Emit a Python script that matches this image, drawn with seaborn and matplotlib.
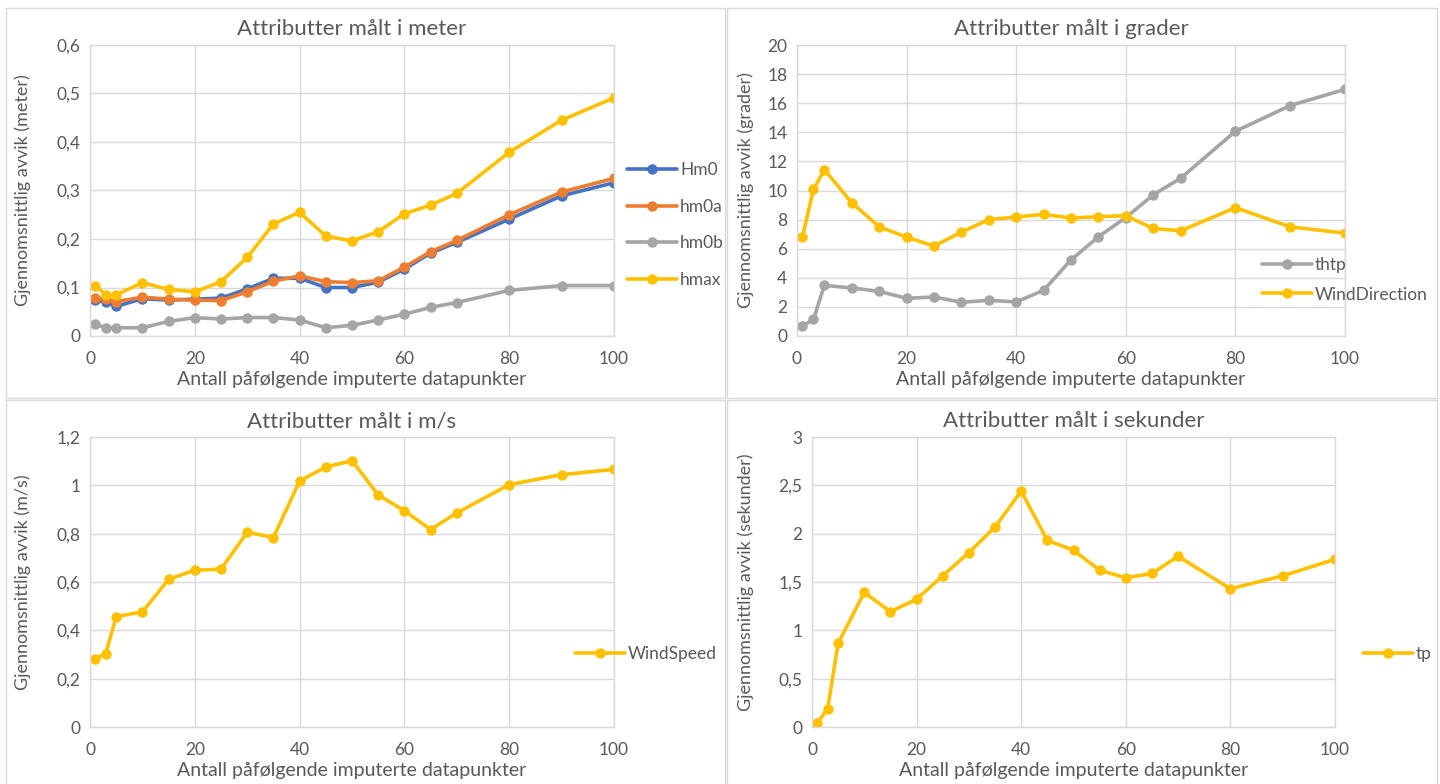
import matplotlib
matplotlib.use("Agg")
import matplotlib.pyplot as plt
import seaborn as sns
import pandas as pd
from matplotlib.patches import Rectangle
from matplotlib.ticker import FuncFormatter, MultipleLocator

sns.set_theme(style="white")
plt.rcParams['font.family'] = ['Lato', 'DejaVu Sans']

# ---------------- data ----------------
x_points = [1, 3, 5, 10, 15, 20, 25, 30, 35, 40, 45, 50, 55, 60, 65, 70, 80, 90, 100]

Hm0 = [0.074, 0.071, 0.061, 0.077, 0.074, 0.076, 0.078, 0.097, 0.119, 0.119, 0.100, 0.100,
       0.111, 0.138, 0.171, 0.193, 0.241, 0.289, 0.316]
hm0a = [0.078, 0.076, 0.071, 0.080, 0.076, 0.074, 0.073, 0.091, 0.113, 0.124, 0.112, 0.110,
        0.114, 0.142, 0.174, 0.197, 0.250, 0.297, 0.325]
hm0b = [0.025, 0.017, 0.017, 0.017, 0.030, 0.038, 0.035, 0.038, 0.038, 0.033, 0.017, 0.022,
        0.033, 0.045, 0.059, 0.069, 0.094, 0.104, 0.104]
hmax = [0.104, 0.085, 0.085, 0.110, 0.096, 0.091, 0.112, 0.162, 0.231, 0.255, 0.206, 0.196,
        0.215, 0.252, 0.270, 0.294, 0.379, 0.445, 0.491]

thtp = [0.68, 1.14, 3.48, 3.30, 3.07, 2.59, 2.68, 2.32, 2.45, 2.34, 3.14, 5.23, 6.82, 8.14,
        9.70, 10.84, 14.07, 15.84, 16.95]
WindDirection = [6.82, 10.07, 11.43, 9.16, 7.50, 6.80, 6.18, 7.14, 8.00, 8.18, 8.36, 8.11,
                 8.20, 8.27, 7.39, 7.23, 8.82, 7.50, 7.07]

WindSpeed = [0.282, 0.304, 0.457, 0.476, 0.611, 0.649, 0.653, 0.806, 0.784, 1.018, 1.076,
             1.102, 0.960, 0.895, 0.817, 0.886, 1.003, 1.044, 1.066]

tp = [0.041, 0.19, 0.866, 1.392, 1.192, 1.323, 1.564, 1.804, 2.069, 2.44, 1.931, 1.828,
      1.622, 1.543, 1.588, 1.766, 1.43, 1.564, 1.735]

titles = ["Attributter målt i meter", "Attributter målt i grader",
          "Attributter målt i m/s", "Attributter målt i sekunder"]
ylabels = ["Gjennomsnittlig avvik (meter)", "Gjennomsnittlig avvik (grader)",
           "Gjennomsnittlig avvik (m/s)", "Gjennomsnittlig avvik (sekunder)"]
xlabel = "Antall påfølgende imputerte datapunkter"

BLUE, ORANGE, GREY, GOLD = "#4472C4", "#ED7D31", "#A5A5A5", "#FFC000"
TXT = "#595959"
GRID = "#D9D9D9"

W, H = 1440, 784
fig = plt.figure(figsize=(W / 100, H / 100), dpi=100)
fig.patch.set_facecolor("white")

# chart-area borders
for (x0, y0, x1, y1) in [(6, 8, 725, 398), (727, 8, 1437, 398),
                         (6, 400, 725, 790), (727, 400, 1437, 790)]:
    fig.patches.append(Rectangle((x0 / W, 1 - y1 / H), (x1 - x0) / W, (y1 - y0) / H,
                                 transform=fig.transFigure, fill=False,
                                 edgecolor=GRID, linewidth=1.0))


def make_axes(left, right, top, bottom):
    return fig.add_axes([left / W, 1 - bottom / H, (right - left) / W, (bottom - top) / H])


def fmt(v, pos):
    return f"{v:g}".replace(".", ",")


def style(ax, ymax, ystep, title, ylabel, ylabel_x):
    ax.set_xlim(0, 100)
    ax.set_ylim(0, ymax)
    ax.xaxis.set_major_locator(MultipleLocator(20))
    ax.yaxis.set_major_locator(MultipleLocator(ystep))
    ax.yaxis.set_major_formatter(FuncFormatter(fmt))
    ax.xaxis.set_major_formatter(FuncFormatter(fmt))
    ax.grid(True, color=GRID, linewidth=1.0)
    ax.set_axisbelow(True)
    for s in ax.spines.values():
        s.set_color(GRID)
        s.set_linewidth(1.0)
    ax.tick_params(axis="y", length=0, labelsize=12.5, colors=TXT, pad=7)
    ax.tick_params(axis="x", length=0, labelsize=12.5, colors=TXT, pad=11)
    ax.set_title(title, fontsize=16, color=TXT, pad=7)
    ax.set_xlabel(xlabel, fontsize=14, color=TXT, labelpad=3)
    ax.set_ylabel(ylabel, fontsize=13, color=TXT)
    ax.yaxis.set_label_coords(ylabel_x, 0.5)


def draw(ax, series):
    for name, vals, col in series:
        sns.lineplot(x=x_points, y=vals, ax=ax, color=col, linewidth=2.6,
                     marker="o", markersize=7.5, markeredgewidth=0, label=name)


def legend(ax, xpx, ypx, spacing):
    ax.legend(loc="center left", bbox_to_anchor=(xpx / W, 1 - ypx / H),
              bbox_transform=fig.transFigure, frameon=False, fontsize=12.5,
              labelcolor=TXT, handlelength=2.9, handletextpad=0.15,
              borderpad=0, borderaxespad=0, labelspacing=spacing)


# panel 1
ax1 = make_axes(90, 614, 45, 336)
draw(ax1, [("Hm0", Hm0, BLUE), ("hm0a", hm0a, ORANGE), ("hm0b", hm0b, GREY), ("hmax", hmax, GOLD)])
style(ax1, 0.6, 0.1, titles[0], ylabels[0], -0.112)
legend(ax1, 627, 225, 1.2)

# panel 2
ax2 = make_axes(797, 1345, 45, 336)
draw(ax2, [("thtp", thtp, GREY), ("WindDirection", WindDirection, GOLD)])
style(ax2, 20, 2, titles[1], ylabels[1], -0.078)
legend(ax2, 1262, 280, 0.75)

# panel 3
ax3 = make_axes(90, 614, 437, 727)
draw(ax3, [("WindSpeed", WindSpeed, GOLD)])
style(ax3, 1.2, 0.2, titles[2], ylabels[2], -0.112)
legend(ax3, 575, 654, 1.0)

# panel 4
ax4 = make_axes(812, 1335, 437, 727)
draw(ax4, [("tp", tp, GOLD)])
style(ax4, 3, 0.5, titles[3], ylabels[3], -0.11)
legend(ax4, 1363, 654, 1.0)

fig.savefig("out.png", dpi=100, facecolor="white")
